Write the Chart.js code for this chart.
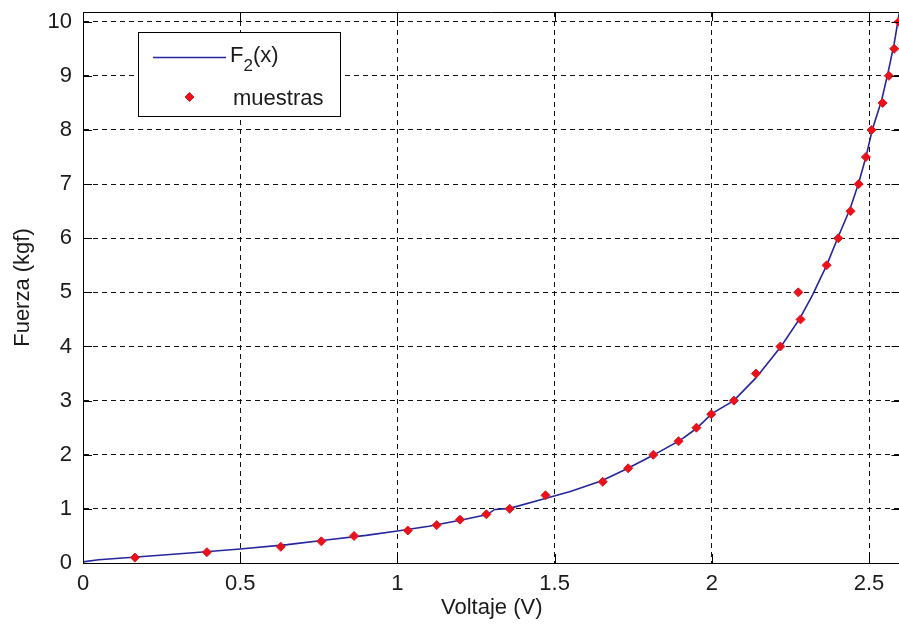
<!DOCTYPE html>
<html>
<head>
<meta charset="utf-8">
<script src="https://cdn.jsdelivr.net/npm/chart.js@4"></script>
<style>
  html, body { margin: 0; padding: 0; background: #fff; overflow: hidden; }
  canvas { display: block; }
</style>
</head>
<body>
<canvas id="chart" width="906" height="631"></canvas>
<script>
// muestras medidas: voltaje (V) -> fuerza (kgf)
const muestrasX = [0.165, 0.394, 0.629, 0.758, 0.862, 1.033, 1.125, 1.199, 1.283, 1.357, 1.471, 1.653,
                   1.734, 1.814, 1.894, 1.951, 1.998, 2.070, 2.140, 2.218, 2.282, 2.275, 2.365, 2.402,
                   2.441, 2.467, 2.490, 2.508, 2.543, 2.563, 2.580, 2.595];
const muestrasY = [0.1, 0.2, 0.3, 0.4, 0.5, 0.6, 0.7, 0.8, 0.9, 1.0, 1.25, 1.5,
                   1.75, 2.0, 2.25, 2.5, 2.75, 3.0, 3.5, 4.0, 4.5, 5.0, 5.5, 6.0,
                   6.5, 7.0, 7.5, 8.0, 8.5, 9.0, 9.5, 10.0];

// curva ajustada F2(x)
const curvaX = [0, 0.05, 0.17, 0.35, 0.5, 0.65, 0.78, 0.9, 1.0, 1.1, 1.2, 1.283, 1.31, 1.357, 1.47,
                1.55, 1.65, 1.73, 1.81, 1.9, 1.95, 2.0, 2.07, 2.14, 2.22, 2.28, 2.32, 2.365, 2.40,
                2.44, 2.467, 2.49, 2.51, 2.54, 2.56, 2.58, 2.60];
const curvaY = [0.02, 0.06, 0.11, 0.19, 0.26, 0.34, 0.43, 0.51, 0.59, 0.68, 0.79, 0.89, 0.99, 1.01, 1.19,
                1.32, 1.52, 1.74, 1.98, 2.27, 2.48, 2.76, 3.0, 3.42, 4.0, 4.52, 4.95, 5.5, 6.0,
                6.55, 7.02, 7.5, 8.0, 8.55, 9.05, 9.6, 10.3];

const xTicks = [0, 0.5, 1, 1.5, 2, 2.5];
const yTicks = [0, 1, 2, 3, 4, 5, 6, 7, 8, 9, 10];

const FONT = "'Liberation Sans', Arial, sans-serif";
const AZUL = '#25259c';
const ROJO = '#e8121a';
const TEXTO = '#1a1a1a';

// marco superior/derecho y marcas de tick hacia dentro (estilo matlab)
const marco = {
  id: 'marco',
  afterDatasetsDraw(chart) {
    const { ctx, chartArea: a, scales: { x, y } } = chart;
    const L = 9;
    ctx.save();
    ctx.strokeStyle = '#000';
    ctx.lineWidth = 1;
    ctx.beginPath();
    ctx.moveTo(a.left, a.top + 0.5); ctx.lineTo(a.right, a.top + 0.5);
    ctx.moveTo(a.right - 0.5, a.top); ctx.lineTo(a.right - 0.5, a.bottom);
    x.ticks.forEach(t => {
      const px = Math.round(x.getPixelForValue(t.value)) + 0.5;
      ctx.moveTo(px, a.bottom); ctx.lineTo(px, a.bottom - L);
      ctx.moveTo(px, a.top); ctx.lineTo(px, a.top + L);
    });
    y.ticks.forEach(t => {
      const py = Math.round(y.getPixelForValue(t.value)) + 0.5;
      ctx.moveTo(a.left, py); ctx.lineTo(a.left + L, py);
      ctx.moveTo(a.right, py); ctx.lineTo(a.right - L, py);
    });
    ctx.stroke();
    ctx.restore();
  }
};

// leyenda en recuadro dentro del área de trazado
const leyenda = {
  id: 'leyenda',
  afterDraw(chart) {
    const ctx = chart.ctx;
    const [linea, puntos] = chart.data.datasets;
    ctx.save();
    ctx.fillStyle = '#fff';
    ctx.strokeStyle = '#000';
    ctx.lineWidth = 1;
    ctx.fillRect(138.5, 32.5, 202, 84);
    ctx.strokeRect(138.5, 32.5, 202, 84);

    // muestra de la curva
    ctx.strokeStyle = linea.borderColor;
    ctx.lineWidth = linea.borderWidth;
    ctx.beginPath();
    ctx.moveTo(153, 57.5); ctx.lineTo(226, 57.5);
    ctx.stroke();

    // F2(x) con subíndice
    ctx.fillStyle = TEXTO;
    ctx.textBaseline = 'alphabetic';
    ctx.font = '22px ' + FONT;
    ctx.fillText('F', 230, 62);
    let w = ctx.measureText('F').width;
    ctx.font = '17px ' + FONT;
    ctx.fillText('2', 230 + w, 71);
    w += ctx.measureText('2').width;
    ctx.font = '22px ' + FONT;
    ctx.fillText('(x)', 230 + w, 62);

    // marcador de muestras
    ctx.fillStyle = puntos.backgroundColor;
    ctx.strokeStyle = puntos.borderColor;
    ctx.lineWidth = puntos.borderWidth;
    Chart.helpers.drawPoint(ctx, {
      pointStyle: puntos.pointStyle,
      radius: puntos.pointRadius,
      borderWidth: puntos.borderWidth
    }, 189.5, 97);
    ctx.fillStyle = TEXTO;
    ctx.font = '22px ' + FONT;
    ctx.fillText(puntos.label, 233, 105);
    ctx.restore();
  }
};

new Chart(document.getElementById('chart'), {
  type: 'scatter',
  data: {
    datasets: [
      {
        label: 'F2(x)',
        data: curvaX.map((v, i) => ({ x: v, y: curvaY[i] })),
        showLine: true,
        borderColor: AZUL,
        borderWidth: 1.6,
        pointRadius: 0,
        tension: 0,
        order: 1
      },
      {
        label: 'muestras',
        data: muestrasX.map((v, i) => ({ x: v, y: muestrasY[i] })),
        pointStyle: 'rectRot',
        pointRadius: 4.5,
        backgroundColor: ROJO,
        borderColor: ROJO,
        borderWidth: 1,
        order: 0
      }
    ]
  },
  options: {
    responsive: false,
    animation: false,
    layout: { padding: { top: 12, right: 2, left: 0, bottom: 0 } },
    plugins: { legend: { display: false }, tooltip: { enabled: false } },
    scales: {
      x: {
        type: 'linear',
        min: 0, max: 2.6,
        afterBuildTicks: s => { s.ticks = xTicks.map(v => ({ value: v })); },
        afterFit: s => { s.height = 68; s.paddingLeft = 0; s.paddingRight = 0; },
        grid: { color: '#111', lineWidth: 1, drawTicks: false },
        border: { display: true, color: '#000', width: 1, dash: [5, 4] },
        ticks: { color: TEXTO, padding: 8, font: { family: FONT, size: 22 }, callback: v => String(v), maxRotation: 0 },
        title: { display: true, text: 'Voltaje (V)', color: TEXTO, font: { family: FONT, size: 22 }, padding: { top: 0, bottom: 10 } }
      },
      y: {
        type: 'linear',
        min: 0, max: 10.18,
        afterBuildTicks: s => { s.ticks = yTicks.map(v => ({ value: v })); },
        afterFit: s => { s.width = 83; s.paddingTop = 0; s.paddingBottom = 0; },
        grid: { color: '#111', lineWidth: 1, drawTicks: false },
        border: { display: true, color: '#000', width: 1, dash: [5, 4] },
        ticks: { color: TEXTO, padding: 11, font: { family: FONT, size: 22 }, callback: v => String(v) },
        title: { display: true, text: 'Fuerza (kgf)', color: TEXTO, font: { family: FONT, size: 22 }, padding: { top: 10, bottom: 0 } }
      }
    }
  },
  plugins: [marco, leyenda]
});
</script>
</body>
</html>
